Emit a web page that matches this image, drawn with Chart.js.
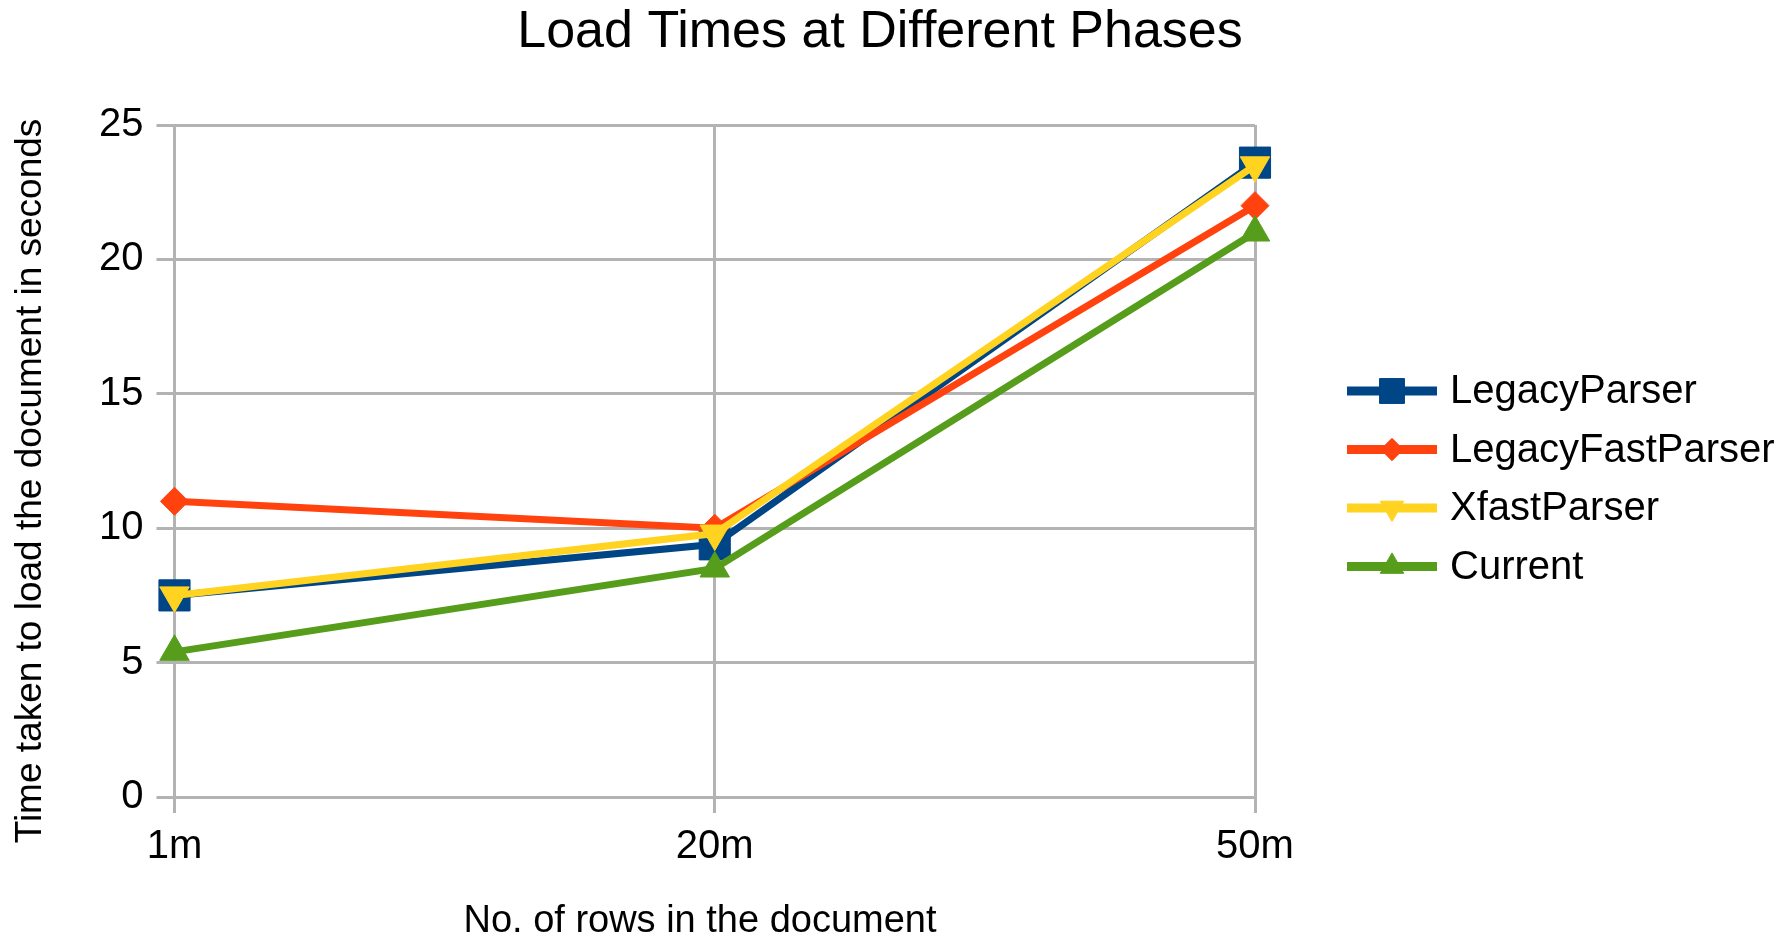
<!DOCTYPE html>
<html>
<head>
<meta charset="utf-8">
<script src="https://cdn.jsdelivr.net/npm/chart.js@4/dist/chart.umd.min.js"></script>
<style>
  html, body { margin: 0; padding: 0; background: #fff; }
  canvas { display: block; }
</style>
</head>
<body>
<canvas id="myChart" width="1786" height="940"></canvas>
<script>
// data
const categories = ['1m', '20m', '50m'];
const legacyParser = [7.5, 9.4, 23.6];
const legacyFastParser = [11.0, 10.0, 22.0];
const xfastParser = [7.5, 9.8, 23.5];
const current = [5.4, 8.5, 21.0];

const seriesNames = ['LegacyParser', 'LegacyFastParser', 'XfastParser', 'Current'];
const seriesColors = ['#004586', '#ff420e', '#ffd320', '#579d1c'];

const FONT = '"Liberation Sans", Arial, sans-serif';
const GRID = '#b3b3b3';

// markers, like the office chart: square, diamond, down triangle, up triangle
const markers = [
  { pointStyle: 'rect', radius: 22, rotation: 0 },
  { pointStyle: 'rectRot', radius: 14, rotation: 0 },
  { pointStyle: 'triangle', radius: 17, rotation: 180 },
  { pointStyle: 'triangle', radius: 17, rotation: 0 }
];

const values = [legacyParser, legacyFastParser, xfastParser, current];

const datasets = values.map((data, i) => ({
  label: seriesNames[i],
  data,
  borderColor: seriesColors[i],
  backgroundColor: seriesColors[i],
  borderWidth: 7,
  pointStyle: markers[i].pointStyle,
  pointRadius: markers[i].radius,
  pointRotation: markers[i].rotation,
  pointBorderWidth: 1,
  pointBackgroundColor: seriesColors[i],
  pointBorderColor: seriesColors[i],
  fill: false,
  tension: 0,
  order: 4 - i // later series sit on top
}));

// legend drawn by hand so the sample is line + marker
const sideLegend = {
  id: 'sideLegend',
  afterDraw(chart) {
    const ctx = chart.ctx;
    ctx.save();
    chart.data.datasets.forEach((ds, i) => {
      const y = 391 + i * 58.5;
      ctx.strokeStyle = ds.borderColor;
      ctx.lineWidth = 9;
      ctx.beginPath();
      ctx.moveTo(1347, y);
      ctx.lineTo(1437, y);
      ctx.stroke();
      ctx.fillStyle = ds.borderColor;
      ctx.lineWidth = 1;
      Chart.helpers.drawPoint(ctx, {
        pointStyle: ds.pointStyle,
        rotation: ds.pointRotation,
        radius: ds.pointRadius * 0.8,
        borderWidth: 1
      }, 1392, y);
      ctx.fillStyle = '#000';
      ctx.font = '40px ' + FONT;
      ctx.textAlign = 'left';
      ctx.textBaseline = 'middle';
      ctx.fillText(ds.label, 1450, y + 1);
    });
    ctx.restore();
  }
};

// chart title and the two axis titles, placed where the reference has them
const outerTexts = {
  id: 'outerTexts',
  afterDraw(chart) {
    const ctx = chart.ctx;
    ctx.save();
    ctx.fillStyle = '#000';
    ctx.textAlign = 'center';
    ctx.textBaseline = 'middle';
    ctx.font = '52px ' + FONT;
    ctx.fillText('Load Times at Different Phases', 880, 33);
    ctx.font = '38px ' + FONT;
    ctx.fillText('No. of rows in the document', 700, 922);
    ctx.translate(31, 481);
    ctx.rotate(-Math.PI / 2);
    ctx.font = '37px ' + FONT;
    ctx.fillText('Time taken to load the document in seconds', 0, 0);
    ctx.restore();
  }
};

const ctx = document.getElementById('myChart').getContext('2d');
new Chart(ctx, {
  type: 'line',
  data: { labels: categories, datasets },
  options: {
    responsive: false,
    animation: false,
    devicePixelRatio: 1,
    layout: { padding: { left: 86, right: 531, top: 125, bottom: 59 } },
    plugins: {
      legend: { display: false },
      tooltip: { enabled: false },
      title: { display: false }
    },
    scales: {
      x: {
        type: 'category',
        offset: false,
        grid: { color: GRID, lineWidth: 3, tickLength: 16, offset: false },
        border: { color: GRID, width: 3 },
        ticks: {
          color: '#000',
          padding: 10,
          maxRotation: 0,
          font: { family: FONT, size: 40 }
        }
      },
      y: {
        min: 0,
        max: 25,
        grid: { color: GRID, lineWidth: 3, tickLength: 18 },
        border: { color: GRID, width: 3 },
        ticks: {
          stepSize: 5,
          color: '#000',
          padding: 13,
          font: { family: FONT, size: 40 }
        }
      }
    }
  },
  plugins: [sideLegend, outerTexts]
});
</script>
</body>
</html>
